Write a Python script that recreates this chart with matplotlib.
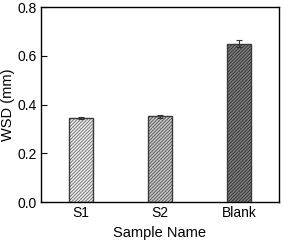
import matplotlib
matplotlib.use("Agg")
import matplotlib.pyplot as plt

plt.rcParams["font.family"] = ["Liberation Sans", "DejaVu Sans"]
plt.rcParams["hatch.linewidth"] = 0.6

# data
samples = ["S1", "S2", "Blank"]
wsd     = [0.345, 0.352, 0.651]
wsd_err = [0.003, 0.007, 0.016]
faces   = ["#ececec", "#c4c4c4", "#7e7e7e"]
hatches = ["#6a6a6a", "#555555", "#2e2e2e"]

fig, ax = plt.subplots(figsize=(2.83, 2.42), dpi=100)
fig.subplots_adjust(left=0.145, right=0.985, bottom=0.165, top=0.97)

x = range(1, len(samples) + 1)
for xi, v, e, fc, hc in zip(x, wsd, wsd_err, faces, hatches):
    ax.bar(xi, v, width=0.3, color=fc, edgecolor=hc, hatch="//////////",
           linewidth=0, zorder=2)
    ax.bar(xi, v, width=0.3, fill=False, edgecolor="#3a3a3a",
           linewidth=1.0, zorder=3)
    ax.errorbar(xi, v, yerr=e, fmt="none", ecolor="#333333",
                elinewidth=0.8, capsize=2.5, capthick=0.8, zorder=4)

ax.set_xlim(0.5, 3.5)
ax.set_ylim(0, 0.8)
ax.set_xticks(list(x))
ax.set_xticklabels(samples)
ax.set_yticks([0.0, 0.2, 0.4, 0.6, 0.8])
ax.yaxis.set_major_formatter(matplotlib.ticker.FormatStrFormatter("%.1f"))
ax.tick_params(direction="in", labelsize=10, length=4, width=0.8, pad=3)
for s in ax.spines.values():
    s.set_linewidth(1.0)

ax.set_xlabel("Sample Name", fontsize=10.5)
ax.set_ylabel("WSD (mm)", fontsize=10.5, labelpad=2)

plt.savefig("out.png", dpi=100)
